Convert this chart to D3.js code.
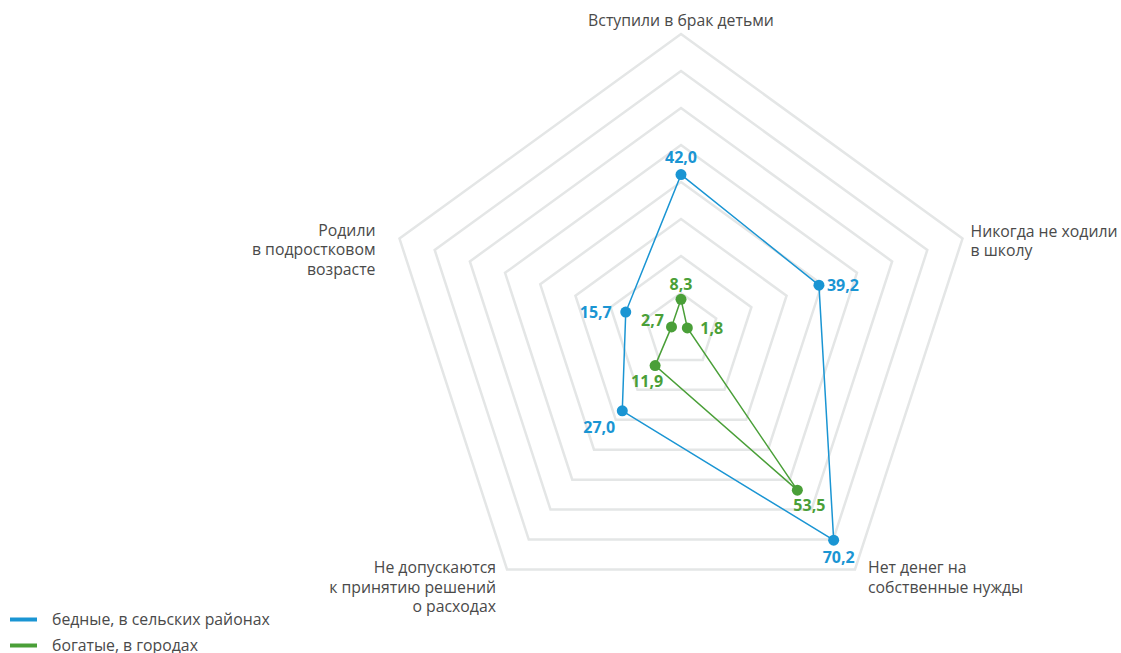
<!DOCTYPE html>
<html>
<head>
<meta charset="utf-8">
<script src="https://cdn.jsdelivr.net/npm/d3@7"></script>
<style>
  html, body { margin: 0; padding: 0; background: #ffffff; }
  svg { display: block; font-family: "Open Sans", "Noto Sans", sans-serif; }
</style>
</head>
<body>
<svg id="chart" width="1121" height="653"></svg>
<script>
// ---- data ----
const axes = [
  ["Вступили в брак детьми"],
  ["Никогда не ходили", "в школу"],
  ["Нет денег на", "собственные нужды"],
  ["Не допускаются", "к принятию решений", "о расходах"],
  ["Родили", "в подростковом", "возрасте"]
];
const poorRural = [42.0, 39.2, 70.2, 27.0, 15.7];
const richUrban = [8.3, 1.8, 53.5, 11.9, 2.7];
const gridLevels = [10, 20, 30, 40, 50, 60, 70, 80];
const seriesNames = ["бедные, в сельских районах", "богатые, в городах"];

// ---- layout / style (not data) ----
const W = 1121, H = 653;
const cx = 681, cy = 330, R = 296;
const colors = ["#1a95d3", "#4a9f38"];
const axisLabelPlacement = [
  { dx: 0, dy: -14, anchor: "middle" },
  { dx: 8, dy: -7, anchor: "start" },
  { dx: 13, dy: -1.5, anchor: "start" },
  { dx: -11, dy: -1.5, anchor: "end" },
  { dx: -24, dy: -8, anchor: "end" }
];
const valueLabelPlacement = [
  [ {dx:0,dy:-17,a:"middle"}, {dx:8,dy:0,a:"start"}, {dx:5,dy:17,a:"middle"}, {dx:-7,dy:17,a:"end"}, {dx:-14,dy:0,a:"end"} ],
  [ {dx:0,dy:-15,a:"middle"}, {dx:13,dy:0,a:"start"}, {dx:12,dy:15,a:"middle"}, {dx:-8,dy:16,a:"middle"}, {dx:-19,dy:-7,a:"middle"} ]
];

const svg = d3.select("#chart");
const r = d3.scaleLinear().domain([0, 80]).range([0, R]);
const angle = d3.scalePoint().domain(d3.range(axes.length + 1)).range([0, 2 * Math.PI]);
const fmt = v => d3.format(".1f")(v).replace(".", ",");
const px = (i, v) => cx + r(v) * Math.sin(angle(i));
const py = (i, v) => cy - r(v) * Math.cos(angle(i));

const g = svg.append("g").attr("transform", `translate(${cx},${cy})`);

// grid
const gridLine = d3.lineRadial()
  .angle((d, i) => angle(i))
  .radius(d => r(d))
  .curve(d3.curveLinearClosed);
g.selectAll("path.grid")
  .data(gridLevels)
  .join("path")
  .attr("class", "grid")
  .attr("d", lvl => gridLine(axes.map(() => lvl)))
  .attr("fill", "none")
  .attr("stroke", "#e4e6e6")
  .attr("stroke-width", 2.5)
  .attr("stroke-linejoin", "miter");

// axis labels
axes.forEach((lines, i) => {
  const p = axisLabelPlacement[i];
  const x0 = px(i, 80) + p.dx, y0 = py(i, 80) + p.dy;
  const t = svg.append("text")
    .attr("text-anchor", p.anchor)
    .attr("fill", "#4a4a4a")
    .attr("font-size", 15.8);
  lines.forEach((ln, k) => {
    t.append("tspan").attr("x", x0).attr("y", y0 + k * 19.3).attr("dy", "0.35em").text(ln);
  });
});

// series
const seriesLine = d3.lineRadial()
  .angle((d, i) => angle(i))
  .radius(d => r(d))
  .curve(d3.curveLinearClosed);
[poorRural, richUrban].forEach((vals, s) => {
  g.append("path")
    .attr("d", seriesLine(vals))
    .attr("fill", "none")
    .attr("stroke", colors[s])
    .attr("stroke-width", 1.5);
  g.selectAll(null).data(vals).join("circle")
    .attr("cx", (d, i) => r(d) * Math.sin(angle(i)))
    .attr("cy", (d, i) => -r(d) * Math.cos(angle(i)))
    .attr("r", 5.5)
    .attr("fill", colors[s]);
  vals.forEach((v, i) => {
    const p = valueLabelPlacement[s][i];
    svg.append("text")
      .attr("x", px(i, v) + p.dx)
      .attr("y", py(i, v) + p.dy)
      .attr("dy", "0.35em")
      .attr("text-anchor", p.a)
      .attr("font-size", 16)
      .attr("font-weight", "bold")
      .attr("fill", colors[s])
      .text(fmt(v));
  });
});

// legend
seriesNames.forEach((name, s) => {
  const y = 619.5 + s * 26;
  svg.append("line")
    .attr("x1", 10).attr("x2", 37).attr("y1", y).attr("y2", y)
    .attr("stroke", colors[s]).attr("stroke-width", 4);
  svg.append("text")
    .attr("x", 52).attr("y", y).attr("dy", "0.35em")
    .attr("font-size", 15.8).attr("fill", "#4a4a4a")
    .text(name);
});
</script>
</body>
</html>
